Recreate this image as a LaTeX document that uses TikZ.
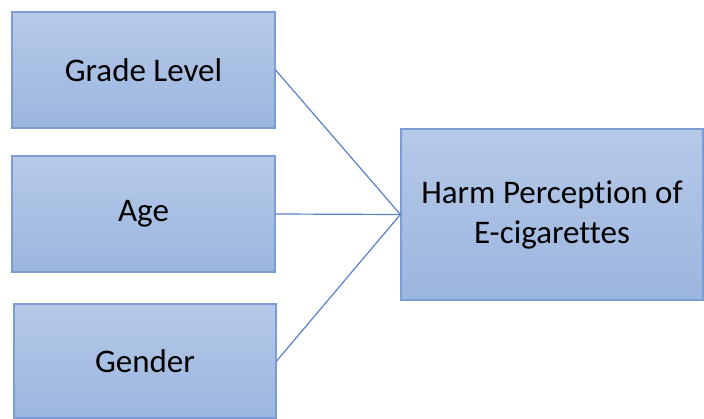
\documentclass[tikz,border=0pt]{standalone}
\usepackage{fontspec}
\setmainfont{Carlito}[Ligatures=NoCommon]
\definecolor{boxtop}{HTML}{B6C9E8}
\definecolor{boxbot}{HTML}{9BB6DF}
\definecolor{boxedge}{HTML}{7B9DD4}
\definecolor{linkcol}{HTML}{5B7FCA}
\tikzset{
  factor/.style={draw=boxedge, line width=1.2pt, top color=boxtop, bottom color=boxbot,
    inner sep=0pt, align=center, font=\fontsize{33}{40}\selectfont},
  link/.style={draw=linkcol, line width=1.2pt}
}

\begin{document}
\begin{tikzpicture}[x=1pt,y=1pt]
 \useasboundingbox (0,0) rectangle (704,418);
 \node[factor, minimum width=263pt, minimum height=116pt] (grade) at (143.5,348) {Grade Level}; %左上
 \node[factor, minimum width=263pt, minimum height=116pt] (age) at (143.5,204) {Age};
 \node[factor, minimum width=262pt, minimum height=114pt] (gender) at (145,57) {Gender};
 \node[factor, minimum width=302pt, minimum height=171pt] (harm) at (552,203.5) {Harm Perception of\\E-cigarettes}; %右
 \draw[link] (grade.east)--(harm.west);
 \draw[link] (age.east)--(harm.west);
 \draw[link] (gender.east)--(harm.west);
\end{tikzpicture}
\end{document}
